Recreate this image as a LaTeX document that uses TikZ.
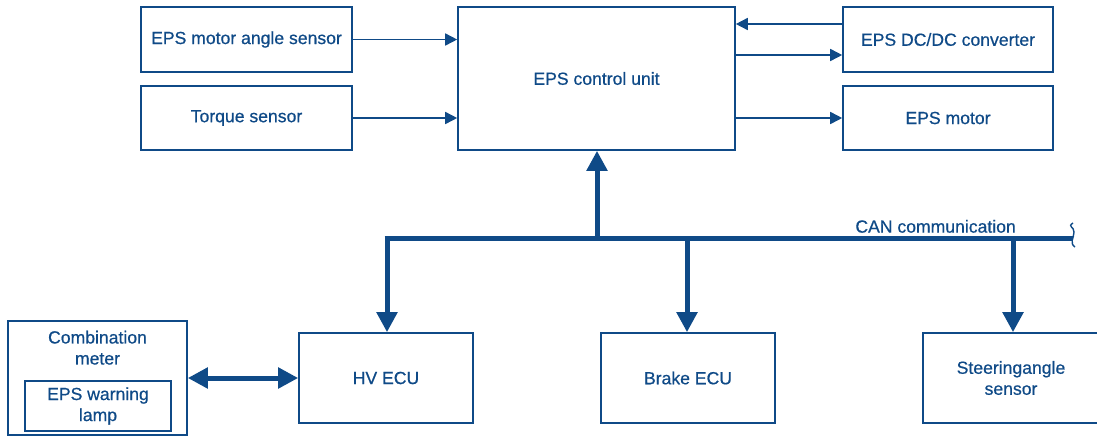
\documentclass[tikz,border=0pt]{standalone}
\usepackage{fontspec}
\setmainfont{Liberation Sans}
\newfontfamily\medfont[FakeBold=0.6]{Liberation Sans}
\usepackage{xcolor}
\usepackage{tikz}
\usetikzlibrary{arrows.meta,positioning}
\definecolor{epsblue}{HTML}{0F4A87}

\begin{document}
\begin{tikzpicture}[x=1pt,y=-1pt, font=\medfont\fontsize{17.6}{21}\selectfont,
	box/.style={draw=epsblue, line width=1.6pt, text=epsblue, align=center,
	inner sep=0pt},
	sig/.style={draw=epsblue, line width=1.6pt, -{Triangle[width=12pt,length=12pt]}},
	bus/.style={draw=epsblue, line width=5pt},
	busarrow/.style={bus, -{Triangle[width=20pt,length=20pt]}}]

\useasboundingbox (0,0) rectangle (1097,437);

\node[box,minimum width=211pt,minimum height=65pt] (angle) at (246.5,39.5) {EPS motor angle sensor};
\node[box,minimum width=211pt,minimum height=64pt] (torque) at (246.5,118) {Torque sensor};
\node[box,minimum width=277pt,minimum height=143pt] (ecu) at (596.5,78.5) {EPS control unit};
\node[box,minimum width=210pt,minimum height=65pt] (dcdc) at (948,39.5) {EPS DC/DC converter};
\node[box,minimum width=210pt,minimum height=64pt] (motor) at (948,118) {EPS motor};

\node[box,minimum width=179pt,minimum height=114pt] (meter) at (97.5,378) {};
\node[text=epsblue,align=center,below=7pt of meter.north] (metertxt) {Combination\\meter};
\node[box,minimum width=146pt,minimum height=50pt] (lamp) at (98,406) {EPS warning\\lamp};
\node[box,minimum width=174pt,minimum height=90pt] (hv) at (386,378) {HV ECU};
\node[box,minimum width=174pt,minimum height=90pt] (brake) at (688,378) {Brake ECU};
\node[box,minimum width=176pt,minimum height=90pt] (steer) at (1011,378) {Steeringangle\\sensor};

% CAN bus
\coordinate (busL) at (387,238);
\coordinate (busR) at (1073,238);
\coordinate (busU) at (597,238);
\coordinate (busB) at (687,238);
\coordinate (busS) at (1013,238);
\draw[bus] ([xshift=-2.5pt]busL) -- (busR);
\draw[epsblue,line width=1.4pt] (busR) ++(0,-15) .. controls ++(-6,4) and ++(0,-6) .. ++(1,9)
	.. controls ++(0,6) and ++(-6,-4) .. ++(1,15);
\node[text=epsblue,anchor=south east,inner sep=2pt] (can) at (1018,235) {CAN communication};

\draw[busarrow] (busU) -- (ecu.south -| busU);
\draw[busarrow] (busL) -- (hv.north -| busL);
\draw[busarrow] (busB) -- (brake.north -| busB);
\draw[busarrow] (busS) -- (steer.north -| busS);
\draw[bus,{Triangle[width=20pt,length=20pt]}-{Triangle[width=20pt,length=20pt]}]
	(meter.east |- hv) -- (hv.west);

% signals
\draw[sig] (angle.east) -- (angle.east -| ecu.west);
\draw[sig] (torque.east) -- (torque.east -| ecu.west);
\draw[sig] ([yshift=15.5pt]dcdc.west) -- ([yshift=15.5pt]dcdc.west -| ecu.east);
\draw[sig] ([yshift=-15.5pt]dcdc.west -| ecu.east) -- ([yshift=-15.5pt]dcdc.west);
\draw[sig] (motor.west -| ecu.east) -- (motor.west);
\end{tikzpicture}
\end{document}
